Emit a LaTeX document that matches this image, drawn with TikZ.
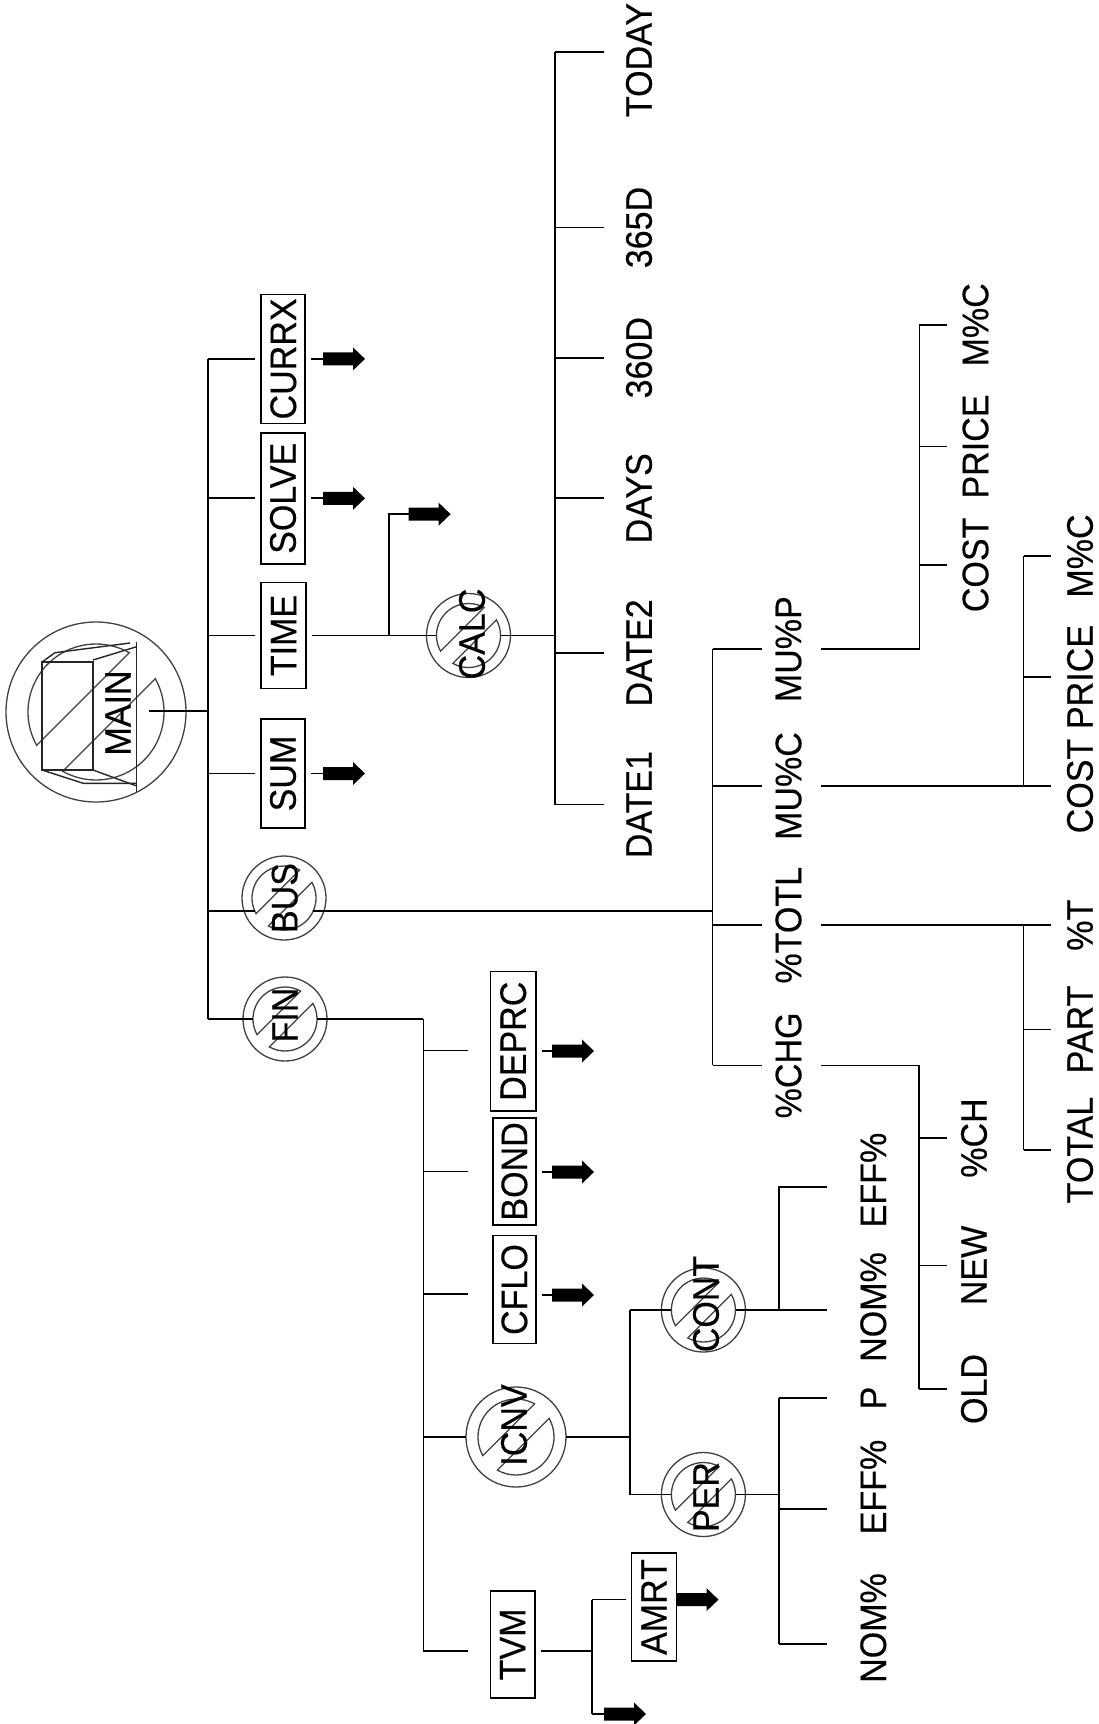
\documentclass[tikz,border=0pt]{standalone}
\usepackage{fontspec}
\setmainfont{Liberation Sans}
\newfontfamily\lblfam[FakeStretch=0.92,FakeBold=0.3]{Liberation Sans}
\newcommand\lblfont{\lblfam\fontsize{37}{44}\selectfont}
\newcommand\ringsym[5]{%
  \draw[ringln] (#2) circle[radius=#3];
  \draw[ringln] (#2) ++(-29.3:#4) arc[start angle=-29.3,end angle=119.3,radius=#4] -- cycle;
  \draw[ringln] (#2) ++(150.7:#4) arc[start angle=150.7,end angle=299.3,radius=#4] -- cycle;
  \node[circle,inner sep=0pt,minimum size={#5*2pt}] (#1) at (#2) {};
}
\tikzset{
  ln/.style={line width=1.7pt, draw=black},
  bx/.style={draw=black, line width=1.8pt, rotate=90, inner sep=0pt, outer sep=6pt, font=\lblfont},
  lbl/.style={rotate=90, inner sep=0pt, font=\lblfont},
  ringln/.style={line width=1.3pt, draw=black!75},
  iconln/.style={line width=1.4pt, draw=black!85},
  pics/blk/.style={code={\fill[black] (0,-6.5) -- (30,-6.5) -- (30,-11.5) -- (42,0) -- (30,11.5) -- (30,6.5) -- (0,6.5) -- cycle;}},
}
\begin{document}
\begin{tikzpicture}[x=1pt,y=-1pt]
\useasboundingbox (0,0) rectangle (1098,1724);

% ================= MAIN
\ringsym{mainc}{96,712}{90}{68}{68}
\draw[iconln] (42,662) rectangle (93,770);
\draw[iconln] (42,662) -- (55,652.7) -- (130,643);
\draw[iconln] (93,660) -- (136.7,646.7);
\draw[iconln] (136.7,641.7) -- (136.7,791.7);
\draw[iconln] (42,770) -- (83.3,783.3) -- (136.7,783.3);
\draw[iconln] (93,770) -- (136.7,786);
\node[lbl] (maint) at (118,713) {MAIN};
\coordinate (mainO) at (149,711);
\coordinate (mJ) at (208,711);
\draw[ln] (mainO) -- (mJ);

% main bracket
\coordinate (mCur) at (208,358.9);
\coordinate (mSol) at (208,498.3);
\coordinate (mTim) at (208,635.5);
\coordinate (mSum) at (208,773.5);
\coordinate (mBus) at (208,911);
\coordinate (mFin) at (208,1019);
\draw[ln] (mCur) -- (mFin);

\node[bx,minimum width=129pt,minimum height=44pt] (currx) at (283.3,358.9) {CURRX};
\node[bx,minimum width=131pt,minimum height=44pt] (solve) at (283,498.3) {SOLVE};
\node[bx,minimum width=106pt,minimum height=45pt] (time) at (283.7,635.5) {TIME};
\node[bx,minimum width=109pt,minimum height=44pt] (sum) at (283,773.5) {SUM};
\foreach \c/\n in {mCur/currx,mSol/solve,mTim/time,mSum/sum}
  \draw[ln] (\c) -- (\c -| \n.north);

\coordinate (aCur) at (323,358.9);
\coordinate (aSol) at (323,498.3);
\coordinate (aSum) at (323,773.5);
\foreach \a/\n in {aCur/currx,aSol/solve,aSum/sum}
  {\draw[ln] (\a -| \n.south) -- (\a); \pic at (\a) {blk};}

% ================= CALC
\ringsym{calc}{468.5,635.5}{42}{32}{32}
\node[lbl] (calct) at (472,634) {CALC};
\draw[ln] (time.south) -- (calc.west);
\coordinate (cJ) at (389.3,635.5);
\coordinate (cT) at (389.3,514.2);
\coordinate (aCal) at (408.6,514.2);
\draw[ln] (cJ) -- (cT) -- (aCal);
\pic at (aCal) {blk};

\coordinate (dJ) at (555,635.5);
\draw[ln] (calc.east) -- (dJ);
\coordinate (dTop) at (555,51.8);
\coordinate (dBot) at (555,804.6);
\coordinate (dE) at (604,0);
\draw[ln] (dTop) -- (dBot);
\node[lbl] (today) at (639,60) {TODAY};
\node[lbl] (d365) at (639,227.5) {365D};
\node[lbl] (d360) at (639,357.7) {360D};
\node[lbl] (days) at (639,498.3) {DAYS};
\node[lbl] (date2) at (639,652.9) {DATE2};
\node[lbl] (date1) at (639,804.6) {DATE1};
\draw[ln] (dTop) -- (dTop -| dE);
\foreach \n in {d365,d360,days,date2,date1}
  \draw[ln] (dTop |- \n) -- (dE |- \n);

% ================= BUS
\ringsym{bus}{284,898}{42}{32}{32}
\node[lbl] (bust) at (284.7,898) {BUS};
\coordinate (busL) at (255,911);
\coordinate (busR) at (313,911);
\draw[ln] (mBus) -- (busL);
\coordinate (bJ) at (712.5,911);
\draw[ln] (busR) -- (bJ);
\coordinate (bTop) at (712.5,649.2);
\coordinate (bBot) at (712.5,1065.4);
\coordinate (bE) at (761.5,0);
\coordinate (bR) at (821,0);
\draw[ln] (bTop) -- (bBot);
\node[lbl] (mup) at (788.5,649.2) {MU\%P};
\node[lbl] (muc) at (788.5,786) {MU\%C};
\node[lbl] (totl) at (788.5,925.2) {\%TOTL};
\node[lbl] (chg) at (788.5,1065.4) {\%CHG};
\foreach \n in {mup,muc,totl,chg}
  \draw[ln] (bTop |- \n) -- (bE |- \n);

% MU%P -> COST PRICE M%C (upper)
\coordinate (uJ) at (919.4,649.2);
\coordinate (uTop) at (919.4,324.8);
\coordinate (uE) at (946.7,0);
\draw[ln] (bR |- mup) -- (uJ) -- (uTop);
\node[lbl] (umc) at (975.5,324.8) {M\%C};
\node[lbl] (uprice) at (975.5,446.5) {PRICE};
\node[lbl] (ucost) at (975.5,564.9) {COST};
\foreach \n in {umc,uprice,ucost}
  \draw[ln] (uTop |- \n) -- (uE |- \n);

% MU%C -> COST PRICE M%C (lower)
\coordinate (lE) at (1050.5,0);
\coordinate (lTop) at (1023.6,556);
\coordinate (lJ) at (1023.6,786);
\node[lbl] (lmc) at (1080,556) {M\%C};
\node[lbl] (lprice) at (1080,677) {PRICE};
\node[lbl] (lcost) at (1080,786) {COST};
\draw[ln] (bR |- muc) -- (lE |- muc);
\draw[ln] (lTop) -- (lJ);
\foreach \n in {lmc,lprice}
  \draw[ln] (lTop |- \n) -- (lE |- \n);

% %TOTL -> TOTAL PART %T
\coordinate (tTop) at (1023.6,925.2);
\coordinate (tBot) at (1023.6,1150);
\node[lbl] (tpt) at (1080,925.2) {\%T};
\node[lbl] (tpart) at (1080,1029.5) {PART};
\node[lbl] (ttotal) at (1080,1150) {TOTAL};
\draw[ln] (bR |- totl) -- (lE |- totl);
\draw[ln] (tTop) -- (tBot);
\foreach \n in {tpart,ttotal}
  \draw[ln] (tTop |- \n) -- (lE |- \n);

% %CHG -> OLD NEW %CH
\coordinate (gJ) at (918.7,1065.4);
\coordinate (gBot) at (918.7,1389);
\node[lbl] (gch) at (974,1138) {\%CH};
\node[lbl] (gnew) at (974,1265.4) {NEW};
\node[lbl] (gold) at (974,1389) {OLD};
\draw[ln] (bR |- chg) -- (gJ) -- (gBot);
\foreach \n in {gch,gnew,gold}
  \draw[ln] (gJ |- \n) -- (uE |- \n);

% ================= FIN
\ringsym{fin}{285,1019}{42}{32}{32}
\node[lbl] (fint) at (285,1015) {FIN};
\draw[ln] (mFin) -- (fin.west);
\coordinate (fJ) at (423.4,1019);
\draw[ln] (fin.east) -- (fJ);
\coordinate (fDep) at (423.4,1050.6);
\coordinate (fBon) at (423.4,1171.5);
\coordinate (fCfl) at (423.4,1294.2);
\coordinate (fIcn) at (423.4,1437);
\coordinate (fTvm) at (423.4,1651);
\coordinate (fE) at (468.3,0);
\draw[ln] (fJ) -- (fTvm);

\node[bx,minimum width=139.5pt,minimum height=45.6pt] (deprc) at (513.2,1041.2) {DEPRC};
\node[bx,minimum width=107pt,minimum height=43pt] (bond) at (514.4,1171.4) {BOND};
\node[bx,minimum width=108pt,minimum height=43pt] (cflo) at (514.4,1289.5) {CFLO};
\node[bx,minimum width=107pt,minimum height=44.6pt] (tvm) at (512.7,1644.4) {TVM};
\foreach \c in {fDep,fBon,fCfl,fTvm}
  \draw[ln] (\c) -- (\c -| fE);

\coordinate (aDep) at (552,1051);
\coordinate (aBon) at (552,1172);
\coordinate (aCfl) at (552,1295);
\foreach \a/\n in {aDep/deprc,aBon/bond,aCfl/cflo}
  {\draw[ln] (\a -| \n.south) -- (\a); \pic at (\a) {blk};}

% ================= ICNV
\ringsym{icnv}{516,1437}{50}{38}{50}
\node[lbl] (icnvt) at (514,1425) {ICNV};
\draw[ln] (fIcn) -- (icnv.west);
\coordinate (iJ) at (629.7,1437);
\draw[ln] (icnv.east) -- (iJ);
\coordinate (iTop) at (629.7,1310);
\coordinate (iBot) at (629.7,1494.5);
\draw[ln] (iTop) -- (iBot);

\ringsym{cont}{703.4,1310}{42}{32}{32}
\node[lbl] (contt) at (706,1304) {CONT};
\ringsym{per}{703.4,1494.5}{42}{32}{32}
\node[lbl] (pert) at (706,1497) {PER};
\draw[ln] (iTop) -- (cont.west);
\draw[ln] (iBot) -- (per.west);

% CONT -> NOM% EFF%
\coordinate (kE) at (827,0);
\coordinate (kJ) at (779,1310);
\coordinate (kTop) at (779,1187);
\node[lbl] (knom) at (873.3,1307) {NOM\%};
\node[lbl] (keff) at (873.3,1180) {EFF\%};
\draw[ln] (cont.east) -- (kE |- cont);
\draw[ln] (kJ) -- (kTop) -- (kTop -| kE);

% PER -> NOM% EFF% P
\coordinate (pJ) at (779,1494.5);
\coordinate (pTop) at (779,1398);
\coordinate (pMid) at (779,1509);
\coordinate (pBot) at (779,1643.8);
\node[lbl] (pp) at (873.3,1398) {P};
\node[lbl] (peff) at (873.3,1487) {EFF\%};
\node[lbl] (pnom) at (873.3,1628) {NOM\%};
\draw[ln] (per.east) -- (pJ);
\draw[ln] (pTop) -- (pBot);
\foreach \c in {pTop,pMid,pBot}
  \draw[ln] (\c) -- (\c -| kE);

% ================= TVM -> AMRT
\coordinate (vJ) at (592,1651);
\coordinate (vTop) at (592,1599.6);
\coordinate (vBot) at (592,1714);
\draw[ln] (vJ -| tvm.south) -- (vJ);
\draw[ln] (vTop) -- (vBot);
\node[bx,minimum width=108pt,minimum height=45pt] (amrt) at (654,1607) {AMRT};
\draw[ln] (vTop) -- (vTop -| amrt.north);
\coordinate (aAmr) at (676.5,1599.6);
\pic at (aAmr) {blk};
\coordinate (aBot) at (604,1714);
\draw[ln] (vBot) -- (aBot);
\pic at (aBot) {blk};
\end{tikzpicture}
\end{document}
